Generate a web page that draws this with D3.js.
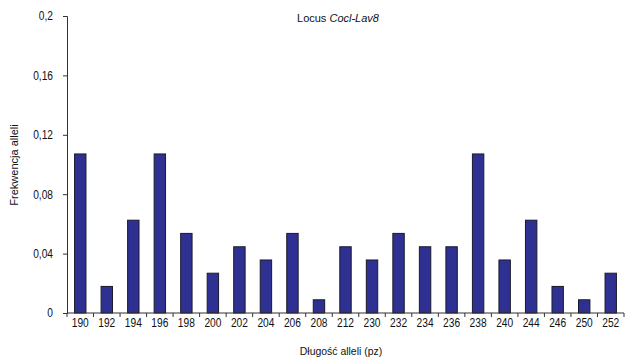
<!DOCTYPE html>
<html>
<head>
<meta charset="utf-8">
<script src="https://cdn.jsdelivr.net/npm/d3@7"></script>
<style>
  body { margin: 0; background: #fff; }
  text { font-family: "Liberation Sans", Arial, sans-serif; fill: #111; }
</style>
</head>
<body>
<svg id="chart" width="628" height="361"></svg>
<script>
// Allele lengths (bp) and their frequencies at locus Cocl-Lav8
const alleles = ["190","192","194","196","198","200","202","204","206","208","212",
                 "230","232","234","236","238","240","244","246","250","252"];
const frequencies = [0.1071,0.0179,0.0625,0.1071,0.0536,0.0268,0.0446,0.0357,0.0536,0.0089,0.0446,
                     0.0357,0.0536,0.0446,0.0446,0.1071,0.0357,0.0625,0.0179,0.0089,0.0268];
const yTicks = [0, 0.04, 0.08, 0.12, 0.16, 0.2];
const yTickLabels = ["0","0,04","0,08","0,12","0,16","0,2"];

const svg = d3.select("#chart");
const plotLeft = 67, plotRight = 624, plotTop = 16, plotBottom = 313;
const narrow = 0.85; // horizontal squeeze for the condensed tick lettering

const x = d3.scaleBand().domain(alleles).range([plotLeft, plotRight]).paddingInner(0.57).paddingOuter(0.285);
const y = d3.scaleLinear().domain([0, 0.2]).range([plotBottom, plotTop]);

// bars
svg.append("g").selectAll("rect").data(alleles).join("rect")
  .attr("x", d => x(d))
  .attr("y", (d, i) => y(frequencies[i]))
  .attr("width", x.bandwidth())
  .attr("height", (d, i) => plotBottom - y(frequencies[i]))
  .attr("fill", "#2e3192")
  .attr("stroke", "#1a1a2a")
  .attr("stroke-width", 1);

// y axis
const yAxis = d3.axisLeft(y).tickValues(yTicks)
  .tickFormat((d, i) => yTickLabels[i]).tickSize(4).tickPadding(10);
const gy = svg.append("g").attr("transform", `translate(${plotLeft},0)`).call(yAxis);
gy.select(".domain").attr("stroke", "#333");
gy.selectAll(".tick line").attr("stroke", "#333");
gy.selectAll(".tick text")
  .style("font-size", "12px").attr("fill", "#111")
  .attr("transform", `translate(-14,0) scale(${narrow},1)`).attr("x", 0);

// x axis: labels centered under bars, ticks between categories
const gx = svg.append("g").attr("transform", `translate(0,${plotBottom})`);
gx.append("line").attr("x1", plotLeft).attr("x2", plotRight).attr("stroke", "#333");
const boundaries = d3.range(alleles.length + 1).map(i => plotLeft + i * x.step());
gx.selectAll("line.tk").data(boundaries).join("line").attr("class", "tk")
  .attr("x1", d => d).attr("x2", d => d).attr("y1", 0).attr("y2", 4).attr("stroke", "#333");
gx.selectAll("text").data(alleles).join("text")
  .attr("transform", d => `translate(${x(d) + x.bandwidth() / 2},14) scale(${narrow},1)`)
  .attr("text-anchor", "middle")
  .style("font-size", "12px")
  .text(d => d);

// title
const title = svg.append("text").attr("x", 338).attr("y", 22).attr("text-anchor", "middle").style("font-size", "11px");
title.append("tspan").text("Locus ");
title.append("tspan").style("font-style", "italic").text("Cocl-Lav8");

// axis titles
svg.append("text").attr("transform", "translate(341,355) scale(0.95,1)").attr("text-anchor", "middle")
  .style("font-size", "11px").text("Długość alleli (pz)");
svg.append("text").attr("transform", "translate(18,165) rotate(-90)").attr("text-anchor", "middle")
  .style("font-size", "11px").text("Frekwencja alleli");
</script>
</body>
</html>
